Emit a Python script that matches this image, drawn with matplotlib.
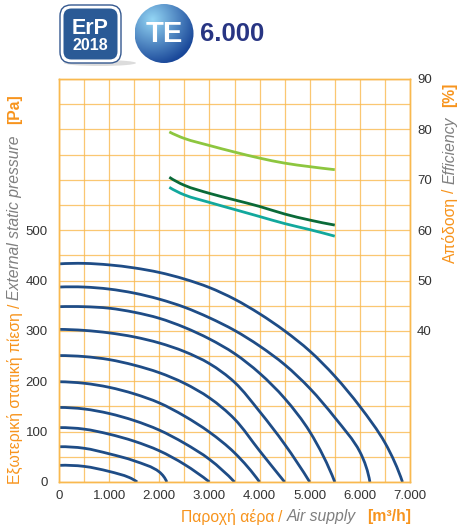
import matplotlib
matplotlib.use('Agg')
import matplotlib.pyplot as plt
import numpy as np
from matplotlib.patches import Circle, FancyBboxPatch, Ellipse, PathPatch
from matplotlib.path import Path
from matplotlib.ticker import FixedLocator, FuncFormatter

plt.rcParams['font.family'] = ['Liberation Sans', 'DejaVu Sans']

# ---------------- data ----------------
c1_flow = [0, 500, 1000, 1500, 2000, 2500, 3000, 3500, 4000, 4500, 5000, 5500, 6000, 6500, 6850]
c1_pa   = [433, 434, 431, 425, 416, 403, 386, 363, 334, 300, 260, 210, 150, 78, 0]
c2_flow = [0, 500, 1000, 1500, 2000, 2500, 3000, 3500, 4000, 4500, 5000, 5500, 6000, 6200]
c2_pa   = [387, 387, 383, 375, 363, 347, 326, 301, 270, 233, 186, 128, 60, 0]
c3_flow = [0, 500, 1000, 1500, 2000, 2500, 3000, 3500, 4000, 4500, 5000, 5500]
c3_pa   = [348, 348, 345, 337, 325, 307, 284, 255, 216, 166, 100, 0]
c4_flow = [0, 500, 1000, 1500, 2000, 2500, 3000, 3500, 4000, 4500, 5000]
c4_pa   = [303, 301, 296, 288, 276, 259, 235, 198, 140, 75, 0]
c5_flow = [0, 500, 1000, 1500, 2000, 2500, 3000, 3500, 4000, 4500]
c5_pa   = [251, 249, 243, 232, 217, 196, 167, 125, 62, 0]
c6_flow = [0, 500, 1000, 1500, 2000, 2500, 3000, 3500, 4000]
c6_pa   = [199, 196, 188, 175, 157, 131, 99, 58, 0]
c7_flow = [0, 500, 1000, 1500, 2000, 2500, 3000, 3500]
c7_pa   = [148, 145, 136, 122, 103, 77, 45, 0]
c8_flow = [0, 500, 1000, 1500, 2000, 2500, 3000]
c8_pa   = [108, 105, 95, 81, 62, 35, 0]
c9_flow = [0, 500, 1000, 1500, 2000, 2150]
c9_pa   = [70, 67, 56, 42, 20, 0]
c10_flow = [0, 500, 1000, 1400, 1560]
c10_pa   = [33, 31, 21, 9, 0]

eff_flow = [2200, 2500, 3000, 3500, 4000, 4500, 5000, 5500]
eff_light = [79.5, 78.2, 76.8, 75.5, 74.3, 73.3, 72.6, 72.0]
eff_dark  = [70.5, 68.9, 67.3, 66.0, 64.7, 63.2, 62.0, 61.0]
eff_teal  = [68.5, 67.0, 65.5, 64.1, 62.7, 61.3, 60.1, 58.8]

x_ticks = [0, 1000, 2000, 3000, 4000, 5000, 6000, 7000]
y_ticks = [0, 100, 200, 300, 400, 500]
y2_ticks = [40, 50, 60, 70, 80, 90]


def _unit(v):
    return v / np.linalg.norm(v)


def smooth_path(xs, ys, sx, sy):
    """Smooth Bezier path through the points (tangents estimated in screen-scaled space)."""
    P = np.column_stack([np.asarray(xs, float) * sx, np.asarray(ys, float) * sy])
    n = len(P)
    T = [None] * n
    for i in range(1, n - 1):
        a = _unit(P[i] - P[i - 1])
        b = _unit(P[i + 1] - P[i])
        T[i] = _unit(a + b)
    # end tangents: reflect neighbouring tangent about the end chord
    s0 = _unit(P[1] - P[0])
    s1 = _unit(P[-1] - P[-2])
    if n > 2:
        T[0] = _unit(2 * np.dot(T[1], s0) * s0 - T[1])
        T[-1] = _unit(2 * np.dot(T[-2], s1) * s1 - T[-2])
    else:
        T[0], T[-1] = s0, s1
    verts = [P[0]]
    codes = [Path.MOVETO]
    for i in range(n - 1):
        seg = np.linalg.norm(P[i + 1] - P[i])
        verts += [P[i] + T[i] * seg / 3, P[i + 1] - T[i + 1] * seg / 3, P[i + 1]]
        codes += [Path.CURVE4] * 3
    V = np.array(verts)
    V[:, 0] /= sx
    V[:, 1] /= sy
    return Path(V, codes)


# ---------------- figure ----------------
W, H = 459, 530
fig = plt.figure(figsize=(W / 100, H / 100), dpi=100)
ORANGE = '#f7941d'
GRID = '#f9b94f'
GRAY = '#7f7f7f'
BLUE = '#1e4c86'

ax = fig.add_axes([59 / W, 1 - 482 / H, (410 - 59) / W, (482 - 79) / H])
ax.set_xlim(0, 7000)
ax.set_ylim(0, 800)
ax.xaxis.set_major_locator(FixedLocator(x_ticks))
ax.yaxis.set_major_locator(FixedLocator(y_ticks))
ax.xaxis.set_minor_locator(FixedLocator(np.arange(0, 7001, 500)))
ax.yaxis.set_minor_locator(FixedLocator(np.arange(0, 801, 50)))
ax.xaxis.set_major_formatter(FuncFormatter(lambda v, p: f"{int(v):,}".replace(',', '.')))
ax.grid(True, which='both', color=GRID, lw=0.9, alpha=0.8)
ax.set_axisbelow(True)
for s in ax.spines.values():
    s.set_color(GRID)
    s.set_linewidth(1.0)
ax.tick_params(which='both', length=0, labelsize=9.5, labelcolor='#333333')
ax.tick_params(axis='x', pad=6)
ax.tick_params(axis='y', pad=8)

SX, SY = 350 / 7000, 403 / 800
curves = [(c1_flow, c1_pa), (c2_flow, c2_pa), (c3_flow, c3_pa), (c4_flow, c4_pa),
          (c5_flow, c5_pa), (c6_flow, c6_pa), (c7_flow, c7_pa), (c8_flow, c8_pa),
          (c9_flow, c9_pa), (c10_flow, c10_pa)]
for f, p in curves:
    ax.add_patch(PathPatch(smooth_path(f, p, SX, SY), fill=False, ec=BLUE, lw=2, capstyle='butt'))

ax2 = ax.twinx()
ax2.set_ylim(10, 90)
ax2.yaxis.set_major_locator(FixedLocator(y2_ticks))
ax2.tick_params(length=0, labelsize=9.5, labelcolor='#333333', pad=5)
for s in ax2.spines.values():
    s.set_color(GRID)
    s.set_linewidth(1.0)
SY2 = 403 / 80
for vals, col in [(eff_light, '#8dc63f'), (eff_dark, '#0a6a38'), (eff_teal, '#12a89d')]:
    ax2.add_patch(PathPatch(smooth_path(eff_flow, vals, SX, SY2), fill=False, ec=col, lw=2))

# ---------------- overlay (pixel coords) ----------------
hdr = fig.add_axes([0, 0, 1, 1], zorder=10)
hdr.set_xlim(0, W)
hdr.set_ylim(H, 0)
hdr.axis('off')

# ErP badge
hdr.add_patch(Ellipse((100, 63), 72, 6, color='#bbbbbb', alpha=0.5, lw=0))
hdr.add_patch(FancyBboxPatch((60, 5), 61, 58, boxstyle='round,pad=0,rounding_size=11',
                             fc='white', ec='#34588f', lw=1.0))
hdr.add_patch(FancyBboxPatch((63.5, 8.5), 54, 51, boxstyle='round,pad=0,rounding_size=8',
                             fc='#2a5a96', ec='none'))
hdr.text(90.5, 28, 'ErP', color='white', fontsize=15.5, fontweight='bold', ha='center', va='center')
hdr.text(90.5, 45, '2018', color='white', fontsize=11.5, fontweight='bold', ha='center', va='center')

# TE sphere
cx, cy, r = 164, 33.5, 29.5
gx, gy = np.meshgrid(np.linspace(cx - r, cx + r, 200), np.linspace(cy - r, cy + r, 200))
dd = np.sqrt((gx - (cx - 12)) ** 2 + (gy - (cy - 14)) ** 2) / (1.55 * r)
dd = np.clip(dd, 0, 1)
col0 = np.array([0.58, 0.84, 0.96])
col1 = np.array([0.10, 0.28, 0.60])
img = col0[None, None, :] * (1 - dd[..., None]) + col1[None, None, :] * dd[..., None]
im = hdr.imshow(img, extent=[cx - r, cx + r, cy + r, cy - r], origin='upper', interpolation='bilinear')
clip = Circle((cx, cy), r, transform=hdr.transData, fc='none', ec='none')
hdr.add_patch(clip)
im.set_clip_path(clip)
hdr.set_xlim(0, W)
hdr.set_ylim(H, 0)
hdr.text(cx, cy + 1, 'TE', color='white', fontsize=21, fontweight='bold', ha='center', va='center')
hdr.text(200, 34, '6.000', color='#283583', fontsize=18.5, fontweight='bold', ha='left', va='center')

# multi-coloured axis labels
fig.canvas.draw()
renderer = fig.canvas.get_renderer()
LFS = 11.3


def multi_text(x, y, parts, rotation=0, align='left'):
    objs = []
    for txt, col, style, weight, gap in parts:
        t = hdr.text(0, 0, txt, color=col, fontsize=LFS, fontstyle=style, fontweight=weight,
                     rotation=rotation, ha='left' if rotation == 0 else 'center',
                     va='center' if rotation == 0 else 'bottom')
        bb = t.get_window_extent(renderer)
        objs.append((t, bb.width if rotation == 0 else bb.height, gap))
    total = sum(w for _, w, _ in objs) + sum(g for _, _, g in objs[:-1])
    pos = x if rotation == 0 else y
    if align == 'right':
        pos = pos - total
    for t, w, g in objs:
        if rotation == 0:
            t.set_position((pos, y))
            pos += w + g
        else:
            t.set_position((x, pos))
            pos -= w + g


multi_text(15, 484, [('Εξωτερική στατική πίεση', ORANGE, 'normal', 'normal', 4),
                     ('/', ORANGE, 'normal', 'normal', 4),
                     ('External static pressure', GRAY, 'italic', 'normal', 11),
                     ('[Pa]', ORANGE, 'normal', 'bold', 0)], rotation=90)
multi_text(450, 263, [('Απόδοση', ORANGE, 'normal', 'normal', 4),
                      ('/', ORANGE, 'normal', 'normal', 4),
                      ('Efficiency', GRAY, 'italic', 'normal', 10),
                      ('[%]', ORANGE, 'normal', 'bold', 0)], rotation=90)
multi_text(411, 517, [('Παροχή αέρα', ORANGE, 'normal', 'normal', 4),
                      ('/', ORANGE, 'normal', 'normal', 4),
                      ('Air supply', GRAY, 'italic', 'normal', 11),
                      ('[m³/h]', ORANGE, 'normal', 'bold', 0)], rotation=0, align='right')

fig.savefig('out.png', dpi=100)
